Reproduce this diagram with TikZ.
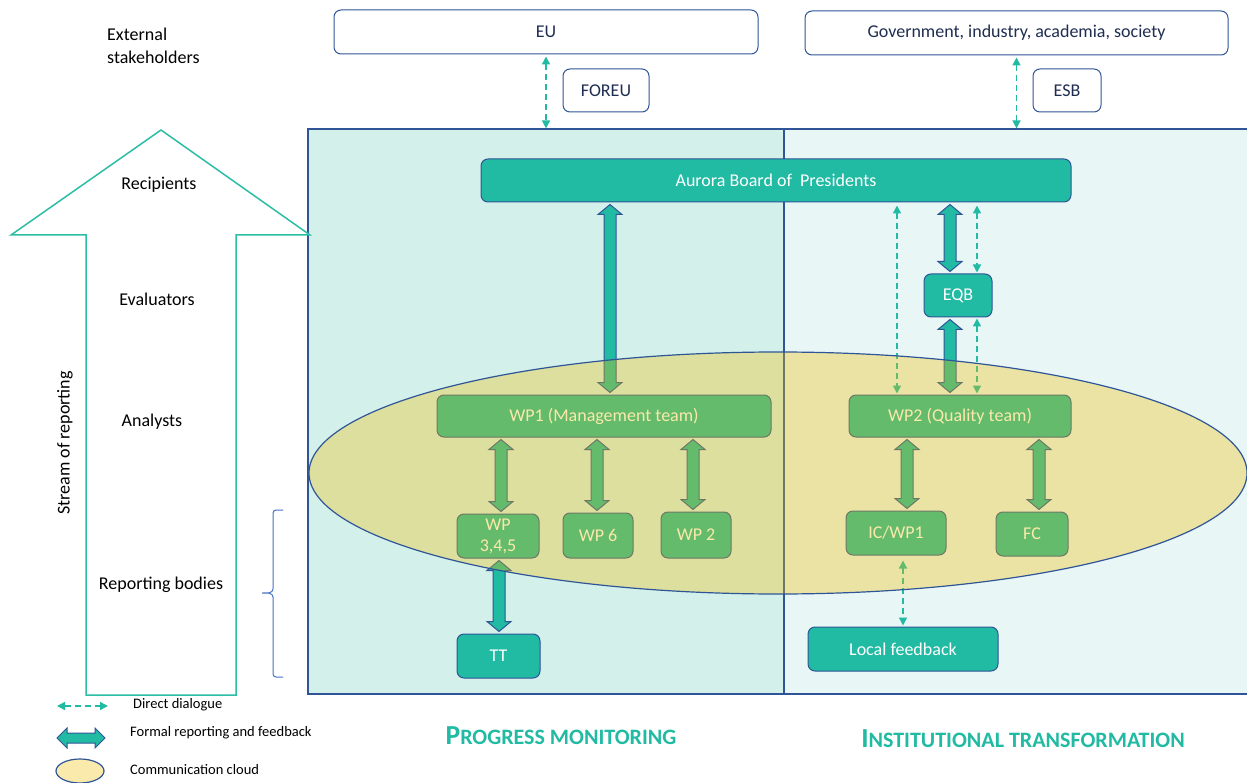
\documentclass[tikz,border=0pt]{standalone}
\usepackage{fontspec}
\setmainfont{Carlito}
\usetikzlibrary{arrows.meta,calc}
\definecolor{teal1}{RGB}{33,186,162}
\definecolor{bblue}{RGB}{47,85,151}
\definecolor{cPanelL}{RGB}{211,240,235}
\definecolor{cPanelR}{RGB}{232,246,246}
\definecolor{cloudc}{RGB}{240,190,0}
\definecolor{navy}{RGB}{31,45,80}
\definecolor{streamc}{RGB}{43,190,164}
\definecolor{bracec}{RGB}{68,114,196}
\tikzset{
  bigfont/.style={font=\fontsize{18}{22}\selectfont},
  topbox/.style={draw=bblue, line width=1pt, fill=white, rounded corners=7pt, text=navy, inner sep=0pt, bigfont},
  tbox/.style={draw=bblue, line width=1pt, fill=teal1, rounded corners=7pt, text=white, inner sep=0pt, bigfont},
  panel/.style={draw=bblue, line width=1.2pt, inner sep=0pt},
  fat/.style={fill=teal1, draw=bblue, line width=1pt, line join=miter},
  dd/.style={draw=teal1, line width=1.5pt, dash pattern=on 6pt off 4pt, {Triangle[length=8pt,width=8pt]}-{Triangle[length=8pt,width=8pt]}},
  commcloud/.style={fill=cloudc, fill opacity=0.33, draw=bblue, line width=1.2pt, draw opacity=1},
  lbl/.style={text=black, inner sep=0pt, bigfont},
  leglbl/.style={text=black, inner sep=0pt, anchor=west, font=\fontsize{14.5}{17}\selectfont},
  title/.style={text=teal1, inner sep=0pt, font=\fontsize{27.5}{31}\selectfont\bfseries},
}
\newcommand\fatarrow[3]{%
  \coordinate (fax) at (#1,0);
  \draw[fat] let \p1=(#2 -| fax), \p2=(#3 -| fax) in
    (\x1,\y1-2pt) -- (\x1+12pt,\y1-12pt) -- (\x1+6pt,\y1-12pt) -- (\x1+6pt,\y2+12pt)
    -- (\x1+12pt,\y2+12pt) -- (\x1,\y2+2pt) -- (\x1-12pt,\y2+12pt) -- (\x1-6pt,\y2+12pt)
    -- (\x1-6pt,\y1-12pt) -- (\x1-12pt,\y1-12pt) -- cycle;}
\begin{document}
\begin{tikzpicture}[x=1pt,y=-1pt]
\useasboundingbox (0,0) rectangle (1247,783);

% panels
\node[panel, fill=cPanelL, minimum width=476pt, minimum height=565pt] (pL) at (546,411.5) {};
\node[panel, fill=cPanelR, minimum width=466pt, minimum height=565pt] (pR) at (1017,411.5) {};

% stream of reporting arrow
\draw[streamc, line width=1.5pt, fill=white, line join=miter]
  (161,130) -- (310,235) -- (236,235) -- (236,695) -- (86,695) -- (86,235) -- (11,235) -- cycle;
\node[lbl, rotate=90] (stream) at (65,443) {Stream of reporting};
\node[lbl] (recip) at (159,185) {Recipients};
\node[lbl] (evalu) at (157,299) {Evaluators};
\node[lbl] (analy) at (152,422) {Analysts};
\node[lbl] (repb) at (161,585) {Reporting bodies};
\node[lbl, anchor=west, align=left, font=\fontsize{18}{23}\selectfont] (ext) at (107,46) {External\\stakeholders};

% brace
\draw[bracec, line width=1pt] (283,510) -- (276,510) to[out=180,in=90] (273,513) -- (273,589)
  to[out=270,in=0] (262,593) to[out=0,in=90] (273,597) -- (273,674) to[out=270,in=180] (276,677) -- (283,677);

% top boxes
\node[topbox, minimum width=424pt, minimum height=44pt] (eu) at (546,32) {EU};
\node[topbox, minimum width=423pt, minimum height=44pt] (gov) at (1016.5,33) {Government, industry, academia, society};
\node[topbox, minimum width=86pt, minimum height=43pt] (foreu) at (606,90.5) {FOREU};
\node[topbox, minimum width=68pt, minimum height=43pt] (esb) at (1067,90.5) {ESB};
\draw[dd, shorten <=2pt] (eu.south) -- (pL.north);
\draw[dd, shorten <=2pt] (gov.south) -- (gov.south |- pR.north);

% inner boxes
\node[tbox, minimum width=590pt, minimum height=43pt] (aurora) at (776,180.5) {Aurora Board of\ \ Presidents};
\node[tbox, minimum width=68pt, minimum height=43pt] (eqb) at (958,295.5) {EQB};
\node[tbox, minimum width=334pt, minimum height=42pt] (wp1) at (604,416) {WP1 (Management team)};
\node[tbox, minimum width=222pt, minimum height=42pt] (wp2) at (960,416) {WP2 (Quality team)};
\node[tbox, minimum width=82pt, minimum height=44pt, align=center, font=\fontsize{18}{21}\selectfont] (wp345) at (498,536) {WP\\3,4,5};
\node[tbox, minimum width=70pt, minimum height=45pt] (wp6) at (598,535.5) {WP 6};
\node[tbox, minimum width=70pt, minimum height=46pt] (wptwo) at (696,535) {WP 2};
\node[tbox, minimum width=83pt, minimum height=44pt] (tt) at (498.5,656) {TT};
\node[tbox, minimum width=100pt, minimum height=44pt] (icwp1) at (896,533) {IC/WP1};
\node[tbox, minimum width=72pt, minimum height=44pt] (fc) at (1032,534) {FC};
\node[tbox, minimum width=190pt, minimum height=44pt] (local) at (903,649) {Local feedback};

% dashed dialogue arrows
\coordinate (dxa) at (897,0);
\coordinate (dxb) at (977,0);
\draw[dd, shorten <=3pt, shorten >=1pt] (aurora.south -| dxa) -- (wp2.north -| dxa);
\draw[dd, shorten <=3pt, shorten >=1pt] (aurora.south -| dxb) -- (eqb.north -| dxb);
\draw[dd, shorten <=1pt, shorten >=1pt] (eqb.south -| dxb) -- (wp2.north -| dxb);
\draw[dd, shorten <=5pt, shorten >=1pt] (local.north |- icwp1.south) -- (local.north);

% formal reporting arrows
\fatarrow{610}{aurora.south}{wp1.north}
\fatarrow{950}{aurora.south}{eqb.north}
\fatarrow{950}{eqb.south}{wp2.north}
\fatarrow{501}{wp1.south}{wp345.north}
\fatarrow{597}{wp1.south}{wp6.north}
\fatarrow{693}{wp1.south}{wptwo.north}
\fatarrow{499}{wp345.south}{tt.north}
\fatarrow{907}{wp2.south}{icwp1.north}
\fatarrow{1039}{wp2.south}{fc.north}

% communication cloud overlay
\draw[commcloud] (778,473) ellipse [x radius=469, y radius=121];

% section titles
\node[title] (prog) at (561,736) {P{\fontsize{22}{26}\selectfont ROGRESS MONITORING}};
\node[title] (inst) at (1023,739) {I{\fontsize{22}{26}\selectfont NSTITUTIONAL TRANSFORMATION}};

% legend
\coordinate (lg1) at (57,706);
\coordinate (lg2) at (108,706);
\draw[dd] (lg1) -- (lg2);
\node[leglbl] (lgt1) at (133,705) {Direct dialogue};
\draw[fat] (57,738) -- (67,728) -- (67,733) -- (95,733) -- (95,728) -- (105,738)
  -- (95,748) -- (95,743) -- (67,743) -- (67,748) -- cycle;
\node[leglbl] (lgt2) at (130,733) {Formal reporting and feedback};
\draw[commcloud] (80,771) ellipse [x radius=24, y radius=12];
\node[leglbl] (lgt3) at (130,770) {Communication cloud};
\end{tikzpicture}
\end{document}
